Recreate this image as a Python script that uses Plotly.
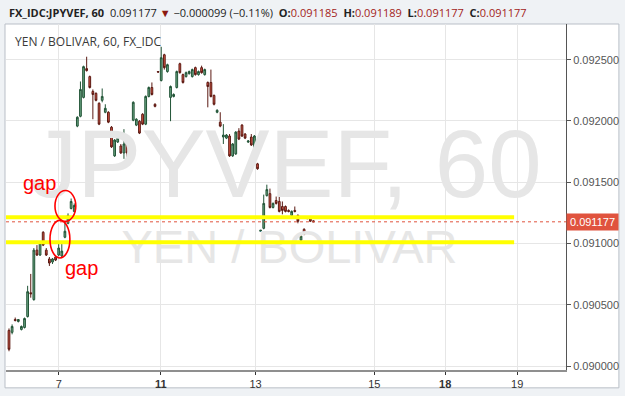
import plotly.graph_objects as go

# ---------------- data ----------------
bars = list(range(99))
opens = [0.090291, 0.090275, 0.090380, 0.090364, 0.090299, 0.090315, 0.090404, 0.090598, 0.090542, 0.090946,
         0.090906, 0.091092, 0.090946, 0.090874, 0.090849, 0.090890, 0.090906, 0.090898, 0.091051, 0.091165,
         0.091286, 0.091262, 0.091958, 0.092038, 0.092192, 0.092427, 0.092362, 0.092241, 0.092225, 0.092144,
         0.092168, 0.092071, 0.092071, 0.091949, 0.091715, 0.091828, 0.091796, 0.091739, 0.091828, 0.091747,
         0.092006, 0.091966, 0.091998, 0.092055, 0.091974, 0.092200, 0.092273, 0.092136, 0.092403, 0.092330,
         0.092540, 0.092403, 0.092192, 0.092200, 0.092273, 0.092467, 0.092378, 0.092362, 0.092386, 0.092362,
         0.092435, 0.092378, 0.092435, 0.092378, 0.092314, 0.092314, 0.092208, 0.092071, 0.091990, 0.091869,
         0.091860, 0.091877, 0.091715, 0.091731, 0.091917, 0.091966, 0.091893, 0.091828, 0.091869, 0.091755,
         0.091650, 0.091100, 0.091124, 0.091391, 0.091407, 0.091294, 0.091351, 0.091343, 0.091302, 0.091302,
         0.091270, 0.091229, 0.091270, 0.091229, 0.091027, 0.091116, 0.091213, 0.091200, 0.091185]
highs = [0.090307, 0.090340, 0.090396, 0.090382, 0.090331, 0.090396, 0.090655, 0.090752, 0.090963, 0.090987,
         0.091011, 0.091100, 0.090963, 0.090890, 0.090882, 0.090898, 0.091019, 0.091003, 0.091181, 0.091246,
         0.091367, 0.091327, 0.092038, 0.092322, 0.092451, 0.092524, 0.092370, 0.092257, 0.092233, 0.092152,
         0.092265, 0.092136, 0.092079, 0.091958, 0.091852, 0.091869, 0.091812, 0.091933, 0.091836, 0.091836,
         0.092160, 0.092022, 0.092006, 0.092063, 0.092208, 0.092281, 0.092314, 0.092144, 0.092407, 0.092605,
         0.092548, 0.092467, 0.092289, 0.092225, 0.092411, 0.092475, 0.092386, 0.092403, 0.092411, 0.092427,
         0.092443, 0.092411, 0.092451, 0.092427, 0.092322, 0.092419, 0.092216, 0.092095, 0.092071, 0.091974,
         0.091893, 0.091893, 0.091820, 0.091917, 0.091941, 0.091974, 0.091901, 0.091844, 0.091893, 0.091885,
         0.091658, 0.091110, 0.091399, 0.091480, 0.091448, 0.091335, 0.091383, 0.091407, 0.091343, 0.091310,
         0.091278, 0.091270, 0.091302, 0.091238, 0.091068, 0.091124, 0.091215, 0.091205, 0.091189]
lows = [0.090121, 0.090259, 0.090364, 0.090356, 0.090291, 0.090307, 0.090396, 0.090558, 0.090534, 0.090898,
        0.090898, 0.090979, 0.090898, 0.090817, 0.090833, 0.090857, 0.090898, 0.090890, 0.091043, 0.091157,
        0.091278, 0.091254, 0.091949, 0.092030, 0.092184, 0.092403, 0.092265, 0.092014, 0.092160, 0.091966,
        0.092152, 0.092063, 0.091982, 0.091780, 0.091707, 0.091820, 0.091731, 0.091691, 0.091626, 0.091739,
        0.091998, 0.091958, 0.091893, 0.091966, 0.091966, 0.092192, 0.092208, 0.092111, 0.092395, 0.092322,
        0.092419, 0.092394, 0.091998, 0.092192, 0.092265, 0.092386, 0.092305, 0.092354, 0.092378, 0.092354,
        0.092370, 0.092370, 0.092386, 0.092370, 0.092111, 0.092192, 0.092127, 0.092063, 0.091949, 0.091812,
        0.091852, 0.091707, 0.091707, 0.091723, 0.091844, 0.091869, 0.091852, 0.091820, 0.091796, 0.091747,
        0.091602, 0.091098, 0.091116, 0.091383, 0.091286, 0.091286, 0.091318, 0.091254, 0.091238, 0.091254,
        0.091254, 0.091221, 0.091254, 0.091165, 0.091019, 0.091068, 0.091197, 0.091175, 0.091177]
closes = [0.090137, 0.090323, 0.090372, 0.090380, 0.090323, 0.090388, 0.090607, 0.090590, 0.090946, 0.090906,
          0.091003, 0.090987, 0.090906, 0.090841, 0.090874, 0.090865, 0.090963, 0.090938, 0.091100, 0.091229,
          0.091343, 0.091310, 0.092030, 0.092257, 0.092443, 0.092411, 0.092273, 0.092216, 0.092168, 0.091974,
          0.092200, 0.092103, 0.091990, 0.091788, 0.091844, 0.091860, 0.091739, 0.091812, 0.091739, 0.091828,
          0.092152, 0.092014, 0.091901, 0.091974, 0.092200, 0.092273, 0.092216, 0.092119, 0.092399, 0.092516,
          0.092435, 0.092459, 0.092281, 0.092216, 0.092403, 0.092394, 0.092314, 0.092394, 0.092403, 0.092419,
          0.092378, 0.092403, 0.092394, 0.092419, 0.092281, 0.092200, 0.092136, 0.092087, 0.091958, 0.091885,
          0.091885, 0.091715, 0.091812, 0.091909, 0.091852, 0.091877, 0.091860, 0.091836, 0.091804, 0.091877,
          0.091610, 0.091108, 0.091327, 0.091440, 0.091294, 0.091327, 0.091327, 0.091262, 0.091270, 0.091262,
          0.091262, 0.091262, 0.091262, 0.091181, 0.091060, 0.091076, 0.091205, 0.091182, 0.091177]

x_tick_pos = [16.07, 48.84, 79.37, 117.6, 140.4, 163.6]
x_tick_text = ["7", "<b>11</b>", "13", "15", "<b>18</b>", "19"]
y_tick_vals = [0.0900, 0.0905, 0.0910, 0.0915, 0.0920, 0.0925]
y_tick_text = ["0.090000", "0.090500", "0.091000", "0.091500", "0.092000", "0.092500"]

last_price = 0.091177
support_levels = [0.091214, 0.091011]
level_end = 162.6
x_range = [-0.964, 179.3]
y_range = [0.089968, 0.092791]

header_symbol = "FX_IDC:JPYVEF, 60"
header_last = "0.091177"
header_change = "\u22120.000099 (\u22120.11%)"
header_ohlc = [("O", "0.091185"), ("H", "0.091189"), ("L", "0.091177"), ("C", "0.091177")]
chart_title = "YEN / BOLIVAR, 60, FX_IDC"
wm_big = "JPYVEF, 60"
wm_small = "YEN / BOLIVAR"

# ---------------- figure ----------------
fig = go.Figure()

# watermark (below candles)
fig.add_trace(go.Scatter(
    x=[89.0, 90.3], y=[0.091575, 0.090935], mode="text",
    text=[wm_big, wm_small],
    textfont=dict(family="Liberation Sans, Arial", size=[96, 47], color="#e6e6e6"),
    textposition="middle center", hoverinfo="skip", showlegend=False, cliponaxis=False))

fig.add_trace(go.Candlestick(
    x=bars, open=opens, high=highs, low=lows, close=closes,
    increasing=dict(line=dict(color="#225437", width=1), fillcolor="#6ba583"),
    decreasing=dict(line=dict(color="#5b1a13", width=1), fillcolor="#d75442"),
    whiskerwidth=0, showlegend=False, hoverinfo="skip"))

shapes = []
# white chart frame (paper coords)
shapes.append(dict(type="rect", xref="paper", yref="paper", x0=-1/561, x1=(620-6)/561,
                   y0=(373-391)/349, y1=1.0, fillcolor="white",
                   line=dict(color="#b9bfc7", width=1), layer="below"))
# last price dotted line
shapes.append(dict(type="line", xref="paper", yref="y", x0=0, x1=1, y0=last_price, y1=last_price,
                   line=dict(color="#e0533e", width=1, dash="dot")))
# yellow levels
for lv in support_levels:
    shapes.append(dict(type="line", xref="x", yref="y", x0=x_range[0], x1=level_end, y0=lv, y1=lv,
                       line=dict(color="#ffff00", width=4)))
# red ellipses
shapes.append(dict(type="circle", xref="x", yref="y", x0=14.8, x1=21.5, y0=0.091181, y1=0.091432,
                   line=dict(color="#ff0000", width=1.6)))
shapes.append(dict(type="circle", xref="x", yref="y", x0=13.2, x1=19.6, y0=0.090882, y1=0.091189,
                   line=dict(color="#ff0000", width=1.6)))

annotations = []
ohlc_txt = "  ".join(f"<b>{k}:</b><span style='color:#a3231a'>{v}</span>" for k, v in header_ohlc)
header = (f"<b>{header_symbol}</b>  {header_last} <span style='color:#8b1a10'>\u25bc</span> "
          f"{header_change}  {ohlc_txt}")
annotations.append(dict(xref="paper", yref="paper", x=(7-6)/561, y=(373-12)/349, xanchor="left",
                        yanchor="middle", text=header, showarrow=False,
                        font=dict(family="Open Sans", size=11, color="#222")))
annotations.append(dict(xref="paper", yref="paper", x=(13-6)/561, y=(373-42)/349, xanchor="left",
                        yanchor="middle", text=chart_title, showarrow=False,
                        font=dict(family="Open Sans", size=12, color="#3a3a3a")))
annotations.append(dict(xref="x", yref="y", x=9.96, y=0.091495, text="gap", showarrow=False,
                        font=dict(family="Liberation Sans, Arial", size=20, color="#ff0000")))
annotations.append(dict(xref="x", yref="y", x=23.2, y=0.090800, text="gap", showarrow=False,
                        font=dict(family="Liberation Sans, Arial", size=20, color="#ff0000")))
# last price label on the axis
annotations.append(dict(xref="paper", yref="y", x=1.0, y=last_price, xanchor="left", yanchor="middle",
                        text=header_last, showarrow=False, bgcolor="#e0533e", width=47, borderpad=2,
                        font=dict(family="Liberation Sans, Arial", size=11, color="white")))

fig.update_layout(
    width=625, height=396, margin=dict(l=6, r=58, t=24, b=23),
    paper_bgcolor="#eff2f5", plot_bgcolor="white", boxgap=0.2,
    shapes=shapes, annotations=annotations, showlegend=False,
    xaxis=dict(range=x_range, rangeslider=dict(visible=False), tickmode="array",
               tickvals=x_tick_pos, ticktext=x_tick_text, showgrid=True, gridcolor="#e6e6e6",
               gridwidth=1, zeroline=False, showline=True, linecolor="#8f8f8f", linewidth=2,
               ticks="outside", ticklen=3, tickcolor="#333",
               tickfont=dict(family="Liberation Sans, Arial", size=11, color="#333")),
    yaxis=dict(range=y_range, side="right", tickmode="array", tickvals=y_tick_vals,
               ticktext=y_tick_text, showgrid=True, gridcolor="#e6e6e6", gridwidth=1,
               zeroline=False, showline=True, linecolor="#555", linewidth=1,
               ticks="outside", ticklen=4, tickcolor="#555",
               tickfont=dict(family="Liberation Sans, Arial", size=11, color="#555")),
)

fig.write_html("out.html")
